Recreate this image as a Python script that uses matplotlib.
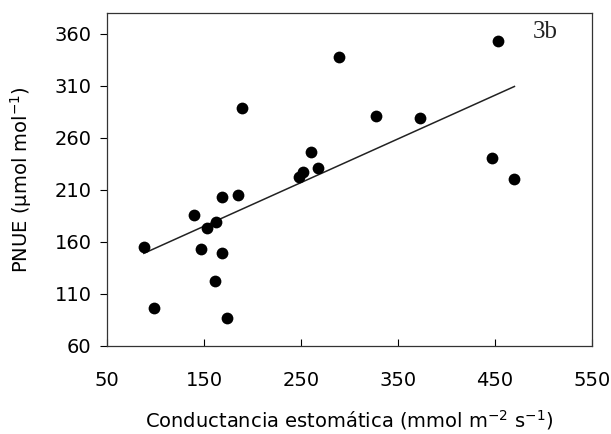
import numpy as np
import matplotlib
matplotlib.use("Agg")
import matplotlib.pyplot as plt

plt.rcParams['font.family'] = ['DejaVu Sans']
plt.rcParams['mathtext.fontset'] = 'dejavusans'
plt.rcParams['mathtext.default'] = 'regular'

# Data
conductance = [88, 99, 140, 147, 153, 162, 161, 169, 174, 169, 185, 189,
               248, 252, 260, 268, 289, 327, 373, 447, 453, 470]
pnue = [155, 96, 186, 153, 173, 179, 122, 149, 87, 203, 205, 289,
        222, 227, 246, 231, 338, 281, 279, 241, 353, 220]
fit_slope = 0.42
fit_intercept = 112.0
fit_range = [88, 470]
x_ticks = [50, 150, 250, 350, 450, 550]
y_ticks = [60, 110, 160, 210, 260, 310, 360]

fig = plt.figure(figsize=(6.11, 4.34), dpi=100)
ax = fig.add_axes([0.175, 0.203, 0.794, 0.767])

fx = np.array(fit_range, dtype=float)
ax.plot(fx, fit_slope * fx + fit_intercept, color='#222222', lw=1.1, zorder=2)
ax.scatter(conductance, pnue, s=72, color='black', zorder=3, linewidths=0)

ax.set_xlim(50, 550)
ax.set_ylim(60, 380)
ax.set_xticks(x_ticks)
ax.set_yticks(y_ticks)
ax.tick_params(axis='x', direction='in', length=5, pad=18, labelsize=14)
ax.tick_params(axis='y', direction='out', length=5, pad=6, labelsize=14)
for sp in ax.spines.values():
    sp.set_linewidth(0.9)
    sp.set_color('#333333')

ax.set_xlabel('Conductancia estomática (mmol m$^{-2}$ s$^{-1}$)', fontsize=14, labelpad=13)
ax.set_ylabel('PNUE (µmol mol$^{-1}$)', fontsize=14, labelpad=15)

ax.text(0.930, 0.975, '3b', transform=ax.transAxes, ha='right', va='top',
        fontsize=18, family=['Liberation Serif', 'DejaVu Serif'], color='#222222')

fig.savefig('out.png', dpi=100)
